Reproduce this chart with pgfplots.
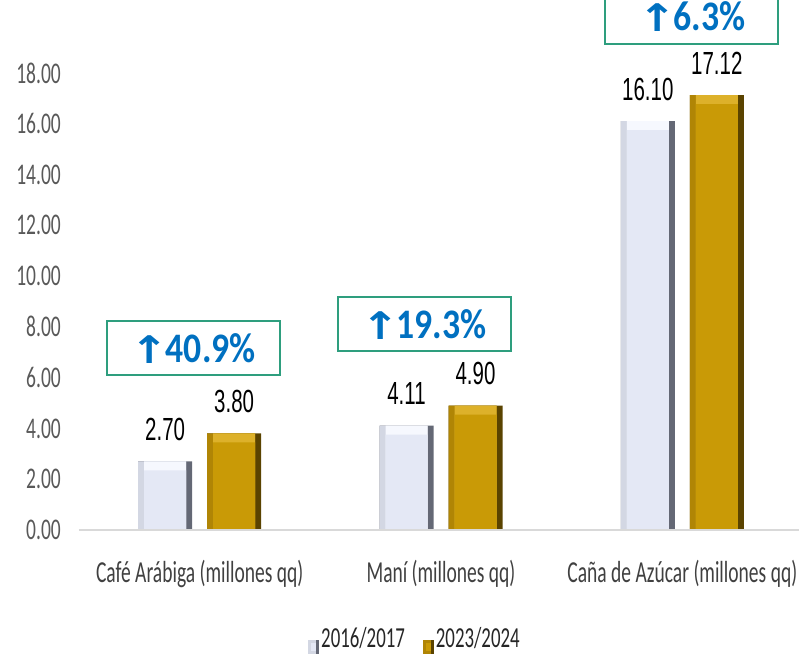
\documentclass[border=0pt]{standalone}
\usepackage{pgfplots}
\usepackage{pgfplotstable}
\pgfplotsset{compat=1.18}
\usepackage{fontspec}
\setmainfont{Carlito}
\newfontfamily\narrowfont[FakeStretch=0.65]{Carlito}
\newfontfamily\catfont[FakeStretch=0.64]{Carlito}
\newfontfamily\datafont[FakeStretch=0.64]{Liberation Sans}
\newfontfamily\pctfont[FakeStretch=0.85]{Carlito}
\newfontfamily\arrowfont[FakeStretch=1.2]{DejaVu Sans}
\definecolor{tickc}{HTML}{595959}
\definecolor{catc}{HTML}{404040}
\definecolor{pctc}{HTML}{0070C0}
\definecolor{boxc}{HTML}{2E9E7E}
\definecolor{baseln}{HTML}{D9D9D9}
\definecolor{lavM}{HTML}{E4E8F5}
\definecolor{lavT}{HTML}{F6F8FE}
\definecolor{lavL}{HTML}{D3D7E3}
\definecolor{lavR}{HTML}{646875}
\definecolor{golM}{HTML}{C99A06}
\definecolor{golT}{HTML}{DDB12A}
\definecolor{golL}{HTML}{B08505}
\definecolor{golR}{HTML}{5A4300}
\pgfplotstableread{
x y
0 2.70
1 4.11
2 16.10
}\tsixteen
\pgfplotstableread{
x y
0 3.80
1 4.90
2 17.12
}\ttwentythree
\begin{document}
\begin{tikzpicture}
\begin{axis}[
  name=ax, at={(0,0)}, anchor=south west,
  scale only axis, width=724pt, height=530pt,
  xmin=-0.5, xmax=2.5, ymin=0, ymax=20.87,
  axis lines*=left,
  x axis line style={draw=baseln, line width=1.5pt, -},
  y axis line style={draw=none},
  axis on top,
  major tick length=0pt,
  xtick={0,1,2},
  xticklabels={Café Arábiga (millones qq), Maní (millones qq), Caña de Azúcar (millones qq)},
  xticklabel style={font=\catfont\fontsize{30.5}{36}\selectfont, text=catc, anchor=base, inner sep=0pt, yshift=-52pt},
  ytick={0,2,4,6,8,10,12,14,16,18},
  yticklabel={\pgfmathprintnumber[fixed,fixed zerofill,precision=2]{\tick}},
  /pgf/number format/assume math mode=true,
  yticklabel style={font=\narrowfont\fontsize{30}{34}\selectfont, text=tickc, anchor=east, inner sep=0pt, xshift=-18pt},
  every node near coord/.append style={font=\datafont\fontsize{32}{36}\selectfont, text=black, anchor=base, inner sep=0pt, yshift=21pt},
  legend style={at={(0.464,-0.2075)}, anchor=center, draw=none, fill=none,
    legend columns=2, font=\narrowfont\fontsize{29}{33}\selectfont, text=black!85,
    /tikz/every even column/.append style={column sep=16pt}},
]
% 2016/2017 layers
\addplot[ybar, bar width=54pt, bar shift=-34.5pt, fill=lavR, draw=none, forget plot,
  nodes near coords={\pgfmathprintnumber[fixed,fixed zerofill,precision=2]{\pgfplotspointmeta}},
  every node near coord/.append style={xshift=-34.5pt}] table[x=x,y=y] {\tsixteen};
\addplot[ybar, bar width=48pt, bar shift=-37.5pt, fill=lavL, draw=none, forget plot] table[x=x,y=y] {\tsixteen};
\addplot[ybar, bar width=42pt, bar shift=-34.5pt, fill=lavT, draw=none, forget plot] table[x=x,y=y] {\tsixteen};
\addplot[ybar, bar width=42pt, bar shift=-34.5pt, fill=lavM, draw=none, yshift=-9pt,
  legend image code/.code={\fill[lavR] (0pt,-7pt) rectangle (11pt,7pt); \fill[lavL] (0pt,-7pt) rectangle (8pt,7pt); \fill[lavM] (3pt,-4pt) rectangle (8pt,4pt);}] table[x=x,y=y] {\tsixteen};
% 2023/2024 layers
\addplot[ybar, bar width=54pt, bar shift=34.5pt, fill=golR, draw=none, forget plot,
  nodes near coords={\pgfmathprintnumber[fixed,fixed zerofill,precision=2]{\pgfplotspointmeta}},
  every node near coord/.append style={xshift=34.5pt}] table[x=x,y=y] {\ttwentythree};
\addplot[ybar, bar width=48pt, bar shift=31.5pt, fill=golL, draw=none, forget plot] table[x=x,y=y] {\ttwentythree};
\addplot[ybar, bar width=42pt, bar shift=34.5pt, fill=golT, draw=none, forget plot] table[x=x,y=y] {\ttwentythree};
\addplot[ybar, bar width=42pt, bar shift=34.5pt, fill=golM, draw=none, yshift=-9pt,
  legend image code/.code={\fill[golR] (0pt,-7pt) rectangle (11pt,7pt); \fill[golL] (0pt,-7pt) rectangle (8pt,7pt); \fill[golM] (3pt,-4pt) rectangle (8pt,4pt);}] table[x=x,y=y] {\ttwentythree};
\legend{2016/2017, 2023/2024}
\coordinate (p1) at (axis cs:-0.027,7.16);
\coordinate (p2) at (axis cs:0.93,8.11);
\coordinate (p3) at (axis cs:2.04,20.2);
\end{axis}
\tikzset{pbox/.style={draw=boxc, line width=2pt, minimum width=173pt, minimum height=54pt, inner sep=0pt, text=pctc}}
\newcommand\pct[1]{\raisebox{-1pt}{\arrowfont\bfseries\fontsize{38}{44}\selectfont ↑}\kern-3pt\pctfont\bfseries\fontsize{42}{46}\selectfont #1\%}
\node[pbox] at (p1) {\pct{40.9}};
\node[pbox] at (p2) {\pct{19.3}};
\node[pbox] at (p3) {\pct{6.3}};
\pgfresetboundingbox
\path[use as bounding box] (ax.south west) ++(-79pt,-133pt) rectangle ++(799pt,663pt);
\end{tikzpicture}
\end{document}
